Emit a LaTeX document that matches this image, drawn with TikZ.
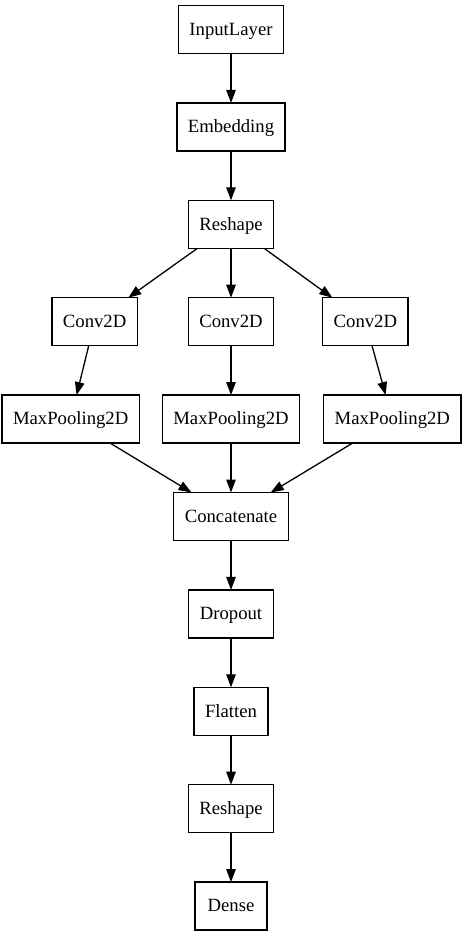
\documentclass[tikz,border=0pt]{standalone}
\usepackage{fontspec}
\setmainfont{Liberation Serif}
\usetikzlibrary{positioning,arrows.meta}
\begin{document}
\begin{tikzpicture}[
		x=1pt,y=1pt,
		node distance=49.4pt and 50pt,
		layer/.style={draw,rectangle,line width=1.3pt,minimum width=72pt,minimum height=48pt,
			inner xsep=11pt,outer sep=0pt,text height=13.5pt,text depth=2pt,
			font=\fontsize{18.7}{22}\selectfont}
		]
		\useasboundingbox (0,0) rectangle (463,-936);
		\node[layer] (input) at (231,-29.5) {InputLayer};
		\node[layer,below=of input] (embed) {Embedding};
		\node[layer,below=of embed] (reshape) {Reshape};
		\node[layer,below=of reshape] (conv2) {Conv2D};
		\node[layer,left=51pt of conv2] (conv1) {Conv2D};
		\node[layer,right=49pt of conv2] (conv3) {Conv2D};
		\node[layer,below=of conv2] (pool2) {MaxPooling2D};
		\node[layer,left=23pt of pool2] (pool1) {MaxPooling2D};
		\node[layer,right=24pt of pool2] (pool3) {MaxPooling2D};
		\node[layer,below=of pool2] (concat) {Concatenate};
		\node[layer,below=of concat] (drop) {Dropout};
		\node[layer,below=of drop] (flat) {Flatten};
		\node[layer,below=of flat] (reshapeb) {Reshape};
		\node[layer,below=of reshapeb] (dense) {Dense};
		\path [-{Triangle[length=13pt,width=9.5pt]},line width=1.3pt]
		(input) edge (embed)
		(embed) edge (reshape)
		(reshape) edge (conv1)
		(reshape) edge (conv2)
		(reshape) edge (conv3)
		(conv1) edge (pool1)
		(conv2) edge (pool2)
		(conv3) edge (pool3)
		(pool1) edge (concat)
		(pool2) edge (concat)
		(pool3) edge (concat)
		(concat) edge (drop)
		(drop) edge (flat)
		(flat) edge (reshapeb)
		(reshapeb) edge (dense);
	\end{tikzpicture}
\end{document}
